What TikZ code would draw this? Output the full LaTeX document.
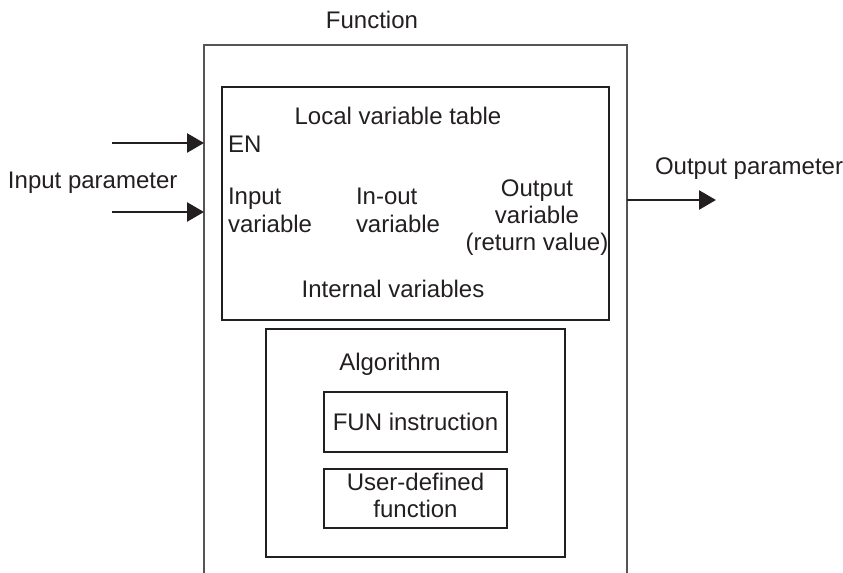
\documentclass[tikz,border=0pt]{standalone}
\usepackage{fontspec}
\setmainfont{Liberation Sans}
\usetikzlibrary{arrows.meta}
\definecolor{ink}{HTML}{231F20}
\definecolor{frame}{HTML}{555555}
\begin{document}
\begin{tikzpicture}[x=0.5pt,y=-0.5pt,
  every node/.style={inner sep=0pt,outer sep=0pt,text=ink,font=\fontsize{12}{13.5}\selectfont},
  lbl/.style={anchor=base},
  boxline/.style={draw=ink,line width=0.8pt},
  arr/.style={draw=ink,line width=1.3pt,-{Triangle[length=8.5pt,width=9.5pt]}}]
\useasboundingbox (0,0) rectangle (843,573);
% outer function frame (open at bottom)
\draw[draw=frame,line width=0.9pt] (204,573) |- (627,45) -- (627,573);
\coordinate (inA) at (204,143);
\coordinate (inB) at (204,212);
\coordinate (outS) at (627,200);
\coordinate (inAs) at (112,143);
\coordinate (inBs) at (112,212);
\coordinate (outE) at (716,200);
% boxes
\draw[boxline] (222,87) rectangle (609,320);
\draw[boxline] (266,329) rectangle (565,557);
\node[boxline,minimum width=183*0.5pt,minimum height=60*0.5pt] (fun) at (415.5,422) {};
\node[boxline,minimum width=183*0.5pt,minimum height=59*0.5pt] (udf) at (415.5,498.5) {};
% texts
\node[lbl] (tfunc) at (372,28) {Function};
\node[lbl] (tlvt) at (398,125) {Local variable table};
\node[lbl,anchor=base west] (ten) at (228,153) {EN};
\node[lbl,anchor=base west,align=left] (tin) at (228,232) {Input\\variable};
\node[lbl,anchor=base west,align=left] (tio) at (356,232) {In-out\\variable};
\node[lbl,align=center] (tout) at (537,250) {Output\\variable\\(return value)};
\node[lbl] (tint) at (393,297) {Internal variables};
\node[lbl] (talg) at (390,370) {Algorithm};
\node[lbl] (tfun) at (415.5,430) {FUN instruction};
\node[lbl,align=center] (tudf) at (415.5,517) {User-defined\\function};
\node[lbl,anchor=base west] (tip) at (8,188) {Input parameter};
\node[lbl,anchor=base west] (top) at (655,174) {Output parameter};
% arrows
\draw[arr] (inAs) -- (inA);
\draw[arr] (inBs) -- (inB);
\draw[arr] (outS) -- (outE);
\end{tikzpicture}
\end{document}
